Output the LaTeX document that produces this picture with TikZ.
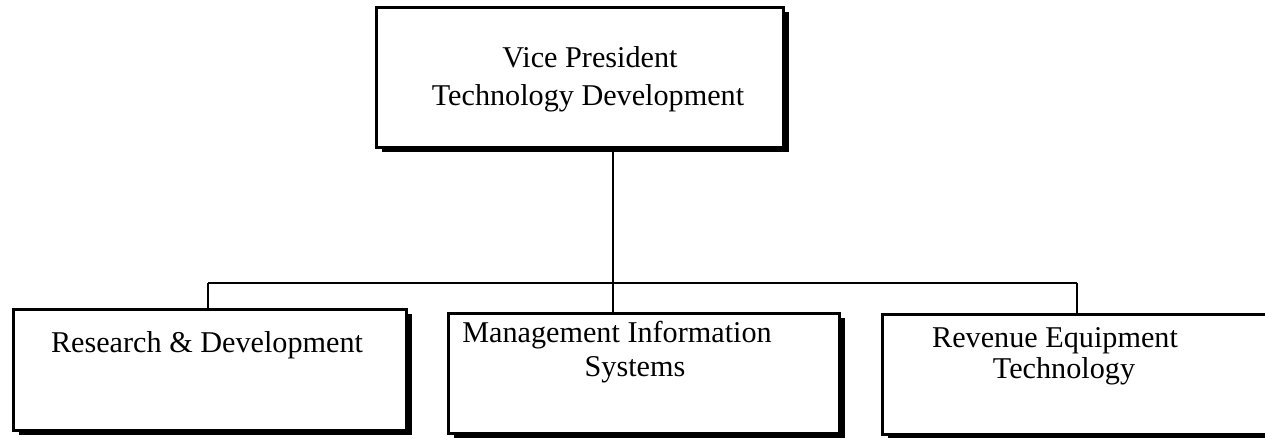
\documentclass[tikz,border=0pt]{standalone}
\usepackage{fontspec}
\setmainfont{Liberation Serif}
\usetikzlibrary{shadows}
\tikzset{
  orgbox/.style={draw=black, line width=2.6pt, fill=white, anchor=north west, inner sep=0pt,
    general shadow={fill=black, shadow xshift=6pt, shadow yshift=-5pt}},
  lbl/.style={font=\fontsize{30.2}{36}\selectfont, inner sep=0pt, anchor=base},
  conn/.style={draw=black, line width=2pt}
}
\begin{document}
\begin{tikzpicture}[x=1pt,y=-1pt]
\useasboundingbox[fill=white] (0,0) rectangle (1265,438);
% boxes
\node[orgbox, minimum width=407pt, minimum height=140pt] (vp) at (375,6) {};
\node[orgbox, minimum width=393pt, minimum height=121pt] (rd) at (12,308) {};
\node[orgbox, minimum width=391pt, minimum height=120pt] (mis) at (447,312) {};
\node[orgbox, minimum width=400pt, minimum height=120pt] (ret) at (881,313) {};
% connectors
\coordinate (j) at (613,283);
\coordinate (jl) at (208,283);
\coordinate (jr) at (1077,283);
\draw[conn] (vp.south -| j) -- (j);
\draw[conn] (j) -- (mis.north -| j);
\draw[conn] (jl) -- (jr);
\draw[conn] (jl) -- (rd.north -| jl);
\draw[conn] (jr) -- (ret.north -| jr);
% labels
\node[lbl] (vp1) at (590,68) {Vice President};
\node[lbl] (vp2) at (588,106) {Technology Development};
\node[lbl] (rd1) at (207,352) {Research \& Development};
\node[lbl] (mis1) at (617,342) {Management Information};
\node[lbl] (mis2) at (635,376) {Systems};
\node[lbl] (ret1) at (1055,347) {Revenue Equipment};
\node[lbl] (ret2) at (1064,378) {Technology};
\end{tikzpicture}
\end{document}
